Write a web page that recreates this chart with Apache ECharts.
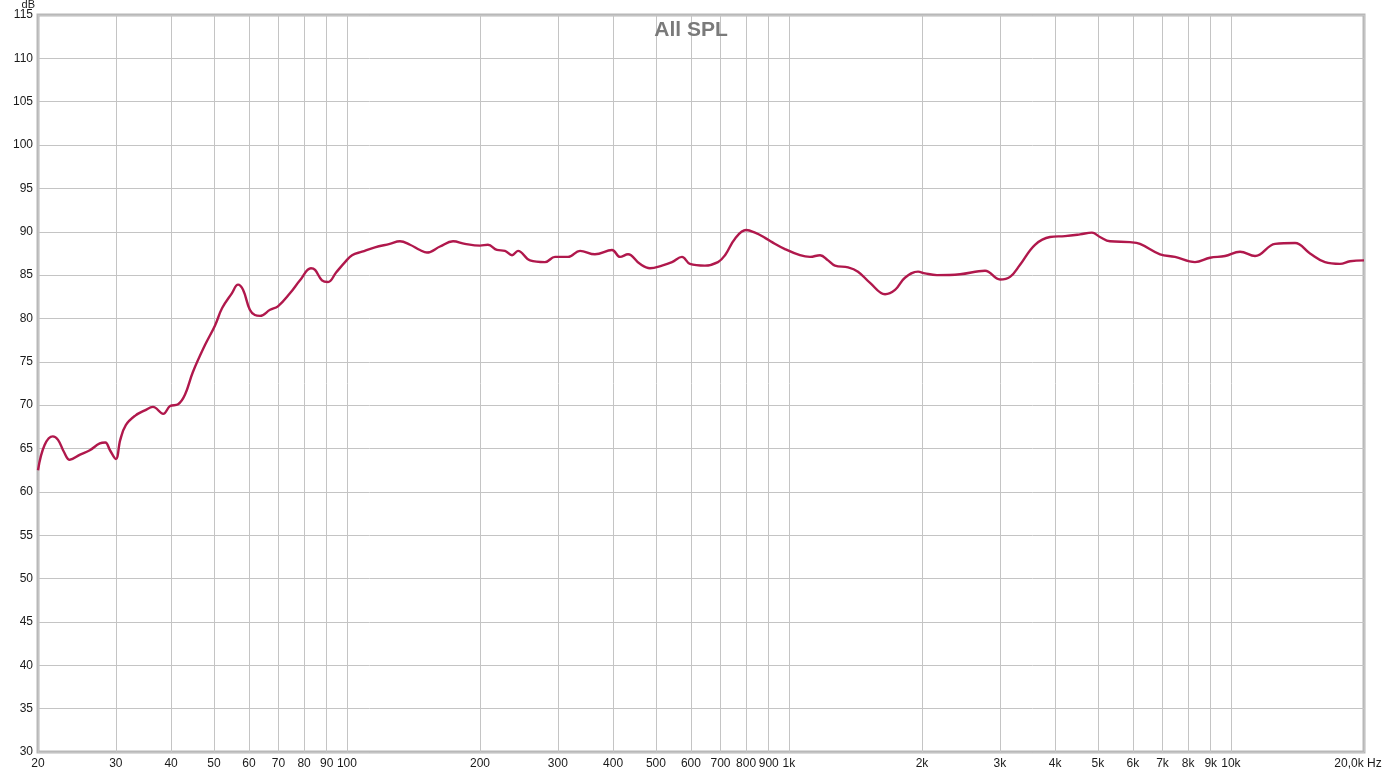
<!DOCTYPE html>
<html>
<head>
<meta charset="utf-8">
<script src="https://cdn.jsdelivr.net/npm/echarts@6/dist/echarts.min.js"></script>
<style>
html,body{margin:0;padding:0;background:#fff;}
#chart{width:1382px;height:773px;}
</style>
</head>
<body>
<div id="chart"></div>
<script>
var freqHz = [20,20.7,21.6,22.2,22.9,23.6,24.9,26.2,27.6,28.4,29.1,30.0,30.7,31.6,33.2,34.9,36.4,38.4,39.8,41.5,43.0,44.8,47.7,50.3,52.2,54.9,56.7,58.2,60.3,61.9,63.6,67.0,69.8,74.3,78.3,82.9,84.7,87.8,90.6,94.5,99.0,102.7,108.2,115.7,125,131.8,138.9,146.3,151.7,162.4,173.8,184.9,200,208.5,218.5,227.8,236.3,243.8,259.5,280.6,295.6,316.4,336.8,364,397.8,414.8,432.4,460,484.8,516,543.8,572.8,597,645.6,691,716.8,755,799.8,838,883,915.8,979.6,1059,1116,1176,1226,1271,1361,1433,1526,1650,1738,1830,1959,2031,2162,2438,2777,3003,3164,3333,3603,3896,4212,4555,4848,5054,5326,5910,6226,6912,7472,8292,8966,9696,10484,11338,12582,13964,15096,16324,17648,18590,20000];
var splDb = [62.5,65.4,66.4,66.0,64.6,63.7,64.3,64.8,65.6,65.7,64.8,63.8,66.0,67.7,68.8,69.4,69.8,69.0,69.9,70.1,71.2,73.8,76.9,79.2,81.2,82.9,83.9,83.3,81.0,80.4,80.3,81.0,81.4,82.9,84.4,85.8,85.6,84.4,84.2,85.3,86.5,87.3,87.7,88.2,88.6,88.9,88.5,87.9,87.6,88.3,88.9,88.6,88.4,88.5,87.9,87.8,87.3,87.8,86.7,86.5,87.1,87.1,87.8,87.4,87.9,87.1,87.4,86.3,85.8,86.1,86.5,87.1,86.3,86.1,86.5,87.3,89.2,90.2,89.9,89.3,88.8,88.0,87.3,87.1,87.3,86.7,86.1,85.9,85.4,84.1,82.8,83.3,84.7,85.4,85.2,85.0,85.1,85.5,84.5,84.8,86.2,88.5,89.4,89.5,89.7,89.9,89.4,88.9,88.8,88.6,87.4,87.1,86.5,87.0,87.2,87.7,87.2,88.6,88.7,87.5,86.5,86.3,86.6,86.7];
var xTickValues = [20,30,40,50,60,70,80,90,100,200,300,400,500,600,700,800,900,1000,2000,3000,4000,5000,6000,7000,8000,9000,10000,20000];
var xTickLabels = ['20','30','40','50','60','70','80','90','100','200','300','400','500','600','700','800','900','1k','2k','3k','4k','5k','6k','7k','8k','9k','10k','20,0k Hz'];
var yAxisUnit = 'dB';

var pts = freqHz.map(function(f,i){return [f, splDb[i]];});
var labelMap = {};
xTickValues.forEach(function(v,i){labelMap[v]=xTickLabels[i];});
var lastTick = xTickValues[xTickValues.length-1];

var FONT = 'Liberation Sans, Arial, sans-serif';
var chart = echarts.init(document.getElementById('chart'), null, {renderer:'canvas'});
chart.setOption({
  backgroundColor:'#ffffff',
  animation:false,
  title:{
    text:'All SPL', left:'center', top:15,
    textStyle:{fontFamily:FONT, fontSize:21, fontWeight:'bold', color:'#7a7a7a'}
  },
  graphic:[{
    type:'text', x:35, y:-1, z:10,
    style:{text:yAxisUnit, fontFamily:FONT, fontSize:11, fill:'#1a1a1a', align:'right', verticalAlign:'top'}
  }],
  grid:{left:38, right:18, top:15, bottom:21, outerBoundsMode:'none', containLabel:false,
        show:true, borderColor:'#b8b8b8', borderWidth:3, backgroundColor:'#fff'},
  xAxis:{
    type:'log', logBase:10, min:20, max:20000,
    axisLine:{show:false},
    axisTick:{show:false, customValues:xTickValues},
    axisLabel:{
      customValues:xTickValues, margin:6,
      fontFamily:FONT, fontSize:12, color:'#1a1a1a',
      formatter:function(v){
        var k = Math.round(v);
        if (k === lastTick) return '{last|' + labelMap[k] + '}';
        return labelMap[k] !== undefined ? labelMap[k] : '';
      },
      rich:{ last:{fontFamily:FONT, fontSize:12, color:'#1a1a1a', padding:[0,12,0,0]} },
      showMinLabel:true, showMaxLabel:true, hideOverlap:false
    },
    splitLine:{show:true, lineStyle:{color:'#c4c4c4', width:1}}
  },
  yAxis:{
    type:'value', min:30, max:115, interval:5,
    axisLine:{show:false}, axisTick:{show:false},
    axisLabel:{margin:5, fontFamily:FONT, fontSize:12, color:'#1a1a1a'},
    splitLine:{show:true, lineStyle:{color:'#c4c4c4', width:1}}
  },
  series:[{
    type:'line', data:pts, smooth:0.4, showSymbol:false,
    lineStyle:{color:'#b0184c', width:2.4},
    z:5
  }]
});
</script>
</body>
</html>
